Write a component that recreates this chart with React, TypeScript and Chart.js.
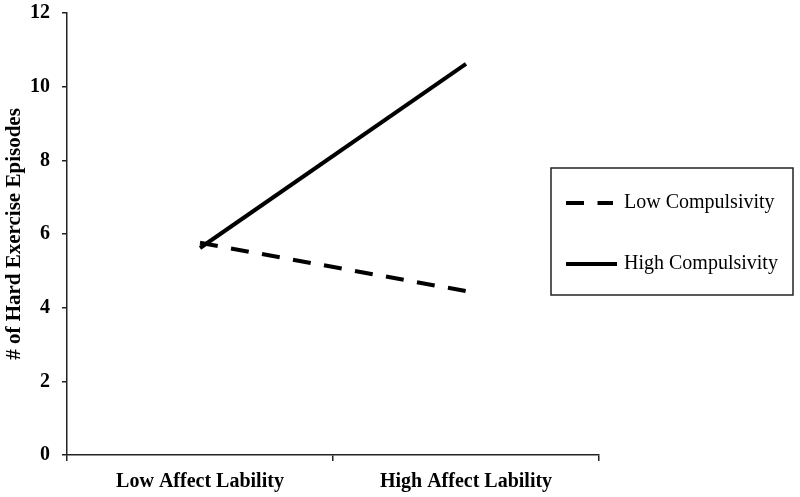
import React, { useEffect, useRef } from "react";
import { Chart, registerables } from "chart.js";

Chart.register(...registerables);

const categories = ["Low Affect Lability", "High Affect Lability"];
const lowCompulsivity = [5.76, 4.45];
const highCompulsivity = [5.62, 10.62];
const seriesLabels = ["Low Compulsivity", "High Compulsivity"];
const yTicks = [0, 2, 4, 6, 8, 10, 12];
const yTitle = "# of Hard Exercise Episodes";

const SERIF = "'Liberation Serif', 'Times New Roman', serif";

const boxLegend = {
  id: "boxLegend",
  afterDraw(chart: any) {
    const ctx = chart.ctx;
    ctx.save();
    ctx.strokeStyle = "#222";
    ctx.lineWidth = 1.5;
    ctx.strokeRect(551, 168, 242, 127);
    const rows = [203, 264];
    chart.data.datasets.forEach((ds: any, i: number) => {
      const y = rows[i];
      ctx.beginPath();
      ctx.strokeStyle = "#000";
      ctx.lineWidth = 4;
      ctx.setLineDash(ds.borderDash || []);
      ctx.moveTo(566, y);
      ctx.lineTo(i === 0 ? 613 : 617, y);
      ctx.stroke();
      ctx.setLineDash([]);
      ctx.fillStyle = "#000";
      ctx.font = `20px ${SERIF}`;
      ctx.textBaseline = "middle";
      ctx.textAlign = "left";
      ctx.fillText(ds.label, 624, y);
    });
    ctx.restore();
  },
};

export default function App() {
  const ref = useRef<HTMLCanvasElement>(null);
  useEffect(() => {
    document.body.style.margin = "0";
    const chart = new Chart(ref.current!, {
      type: "line",
      data: {
        labels: categories,
        datasets: [
          {
            label: seriesLabels[0],
            data: lowCompulsivity,
            borderColor: "#000",
            borderWidth: 4,
            borderDash: [18, 13.5],
            pointRadius: 0,
            fill: false,
          },
          {
            label: seriesLabels[1],
            data: highCompulsivity,
            borderColor: "#000",
            borderWidth: 4,
            pointRadius: 0,
            fill: false,
          },
        ],
      },
      options: {
        responsive: false,
        animation: false,
        layout: { padding: { top: 13, right: 201, left: 0, bottom: 0 } },
        plugins: { legend: { display: false }, tooltip: { enabled: false } },
        scales: {
          x: {
            offset: true,
            grid: { offset: true, drawOnChartArea: false, drawTicks: true, tickLength: 6, color: "#222", lineWidth: 1.5 },
            border: { color: "#222", width: 1.5 },
            ticks: { color: "#000", font: { family: SERIF, size: 20, weight: "bold" }, padding: 9, maxRotation: 0 },
            afterFit: (s: any) => { s.height = 42; s.paddingLeft = 0; s.paddingRight = 0; },
          },
          y: {
            min: 0,
            max: 12,
            afterBuildTicks: (s: any) => { s.ticks = yTicks.map((v) => ({ value: v })); },
            grid: { drawOnChartArea: false, drawTicks: true, tickLength: 5, color: "#222", lineWidth: 1.5 },
            border: { color: "#222", width: 1.5 },
            ticks: { color: "#000", font: { family: SERIF, size: 20, weight: "bold" }, padding: 12 },
            title: { display: true, text: yTitle, color: "#000", font: { family: SERIF, size: 21, weight: "bold" }, padding: { top: 2, bottom: 0 } },
            afterFit: (s: any) => { s.width = 67; s.paddingTop = 0; s.paddingBottom = 0; },
          },
        },
      },
      plugins: [boxLegend],
    });
    return () => chart.destroy();
  }, []);
  return (
    <div style={{ position: "absolute", left: 0, top: 0, width: 800, height: 497 }}>
      <canvas ref={ref} width={800} height={497} style={{ display: "block" }} />
    </div>
  );
}
